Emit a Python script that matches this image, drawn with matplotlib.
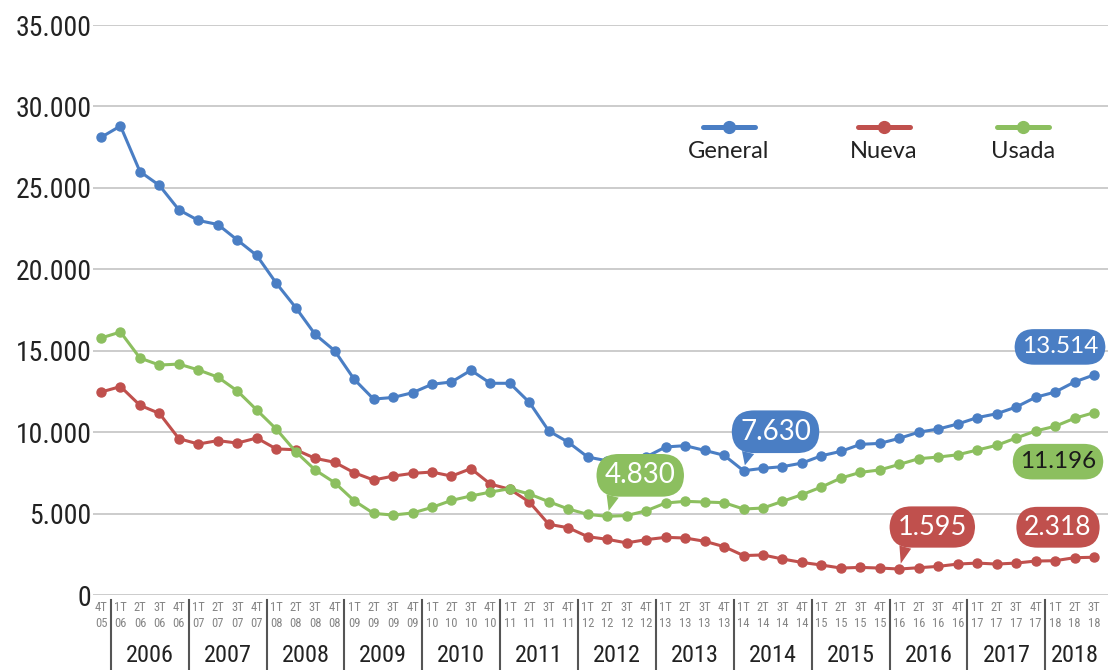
import numpy as np
import matplotlib
matplotlib.use("Agg")
import matplotlib.pyplot as plt
from matplotlib.lines import Line2D

# Datos trimestrales 4T 2005 - 3T 2018
general = [28100, 28800, 26000, 25150, 23650, 23000, 22750, 21800, 20850, 19150,
           17650, 16000, 15000, 13250, 12030, 12130, 12420, 12940, 13080, 13800,
           13000, 13000, 11830, 10070, 9380, 8470, 8240, 8080, 8480, 9090,
           9170, 8880, 8580, 7630, 7780, 7880, 8100, 8550, 8820, 9250,
           9310, 9620, 10000, 10190, 10500, 10890, 11130, 11540, 12140, 12460,
           13080, 13514]
nueva = [12460, 12800, 11650, 11150, 9600, 9270, 9480, 9330, 9640, 8970,
         8920, 8390, 8150, 7510, 7060, 7300, 7470, 7550, 7300, 7760,
         6810, 6490, 5710, 4340, 4130, 3580, 3420, 3200, 3400, 3540,
         3500, 3300, 2970, 2420, 2460, 2210, 2000, 1840, 1655, 1695,
         1655, 1595, 1675, 1757, 1900, 1960, 1900, 1960, 2085, 2105,
         2290, 2318]
usada = [15780, 16150, 14550, 14120, 14180, 13820, 13380, 12530, 11360, 10190,
         8800, 7675, 6900, 5790, 5010, 4910, 5035, 5380, 5810, 6080,
         6320, 6530, 6200, 5730, 5280, 4950, 4830, 4880, 5170, 5650,
         5750, 5710, 5670, 5280, 5340, 5750, 6160, 6630, 7180, 7530,
         7680, 8020, 8370, 8470, 8610, 8900, 9190, 9640, 10070, 10360,
         10850, 11196]

trimestres = ["4T"] + ["1T", "2T", "3T", "4T"] * 12 + ["1T", "2T", "3T"]
anios_q = ["05"] + [f"{a:02d}" for a in range(6, 18) for _ in range(4)] + ["18"] * 3
anios = [str(a) for a in range(2006, 2019)]

series = [("General", general, "#4A7EC4"),
          ("Nueva", nueva, "#C0504D"),
          ("Usada", usada, "#8CBF5F")]

# (serie, indice, texto, dx, dy en px, color texto, tamaño, con cola)
etiquetas = [(0, 51, "13.514", -34, 28, "white", 17.5, False),
             (2, 51, "11.196", -36, -49, "#1a1a1a", 17.5, False),
             (1, 51, "2.318", -36, 30, "white", 19, False),
             (0, 33, "7.630", 32, 39, "white", 20, True),
             (1, 41, "1.595", 33, 42, "white", 19.5, True),
             (2, 26, "4.830", 33, 41, "white", 20, True)]

NARROW = ["Roboto Condensed", "Roboto", "DejaVu Sans"]
LATO = ["Lato", "DejaVu Sans"]

fig = plt.figure(figsize=(11.11, 6.70), dpi=100)
ax = fig.add_axes([93 / 1111, 75 / 670, (1108 - 93) / 1111, 570 / 670])

x = np.arange(len(general))
for nombre, datos, color in series:
    ax.plot(x, datos, color=color, lw=2.2, marker="o", ms=6.5, zorder=3)

ax.set_xlim(-8 / 19.47, 51 + 14 / 19.47)
ax.set_ylim(0, 35000)
ax.set_yticks(range(0, 35001, 5000))
ax.set_yticklabels(["0" if v == 0 else f"{v // 1000}.000" for v in range(0, 35001, 5000)],
                   family=NARROW, fontsize=20, color="#222222")
ax.grid(axis="y", color="#c4c4c4", lw=1.2)
ax.set_axisbelow(True)
for s in ax.spines.values():
    s.set_visible(False)
ax.tick_params(axis="y", length=0, pad=1)

ax.set_xticks(x)
ax.set_xticklabels([f"{t}\n{a}" for t, a in zip(trimestres, anios_q)],
                   family=NARROW, fontsize=9, color="#858585", linespacing=1.35)
ax.tick_params(axis="x", length=0, pad=4)

# separadores de años y etiquetas de año
trans = ax.get_xaxis_transform()
for k in range(len(anios)):
    xs = 0.5 + 4 * k
    ax.plot([xs, xs], [-0.009, -0.135], color="#555555", lw=1.5,
            transform=trans, clip_on=False)
    xc = xs + 2 if k < len(anios) - 1 else 50
    ax.text(xc, -0.107, anios[k], transform=trans, ha="center", va="center",
            family=NARROW, fontsize=17.5, color="#222222")

# leyenda
for (nombre, datos, color), cx in zip(series, [729, 884, 1023]):
    fig.add_artist(Line2D([(cx - 26) / 1111, (cx + 26) / 1111], [1 - 127 / 670] * 2,
                          color=color, lw=3.6, solid_capstyle="round"))
    fig.add_artist(Line2D([cx / 1111], [1 - 127 / 670], color=color, marker="o", ms=8.5))
    fig.text(cx / 1111, 1 - 151 / 670, nombre, ha="center", va="center",
             family=LATO, fontsize=17, color="#222222")

# etiquetas de valores
for si, idx, txt, dx, dy, tc, fs, cola in etiquetas:
    color = series[si][2]
    val = series[si][1][idx]
    props = None
    if cola:
        props = dict(arrowstyle="wedge,tail_width=0.45,shrink_factor=0.5",
                     fc=color, ec="none", relpos=(0.14, 0.0), shrinkA=0, shrinkB=4)
    ax.annotate(txt, xy=(idx, val), xytext=(dx, dy), textcoords="offset pixels",
                ha="center", va="center", family=LATO, fontsize=fs, color=tc,
                bbox=dict(boxstyle="round,pad=0.3,rounding_size=0.8", fc=color, ec="none"),
                arrowprops=props, zorder=5, annotation_clip=False)

fig.savefig("out.png", dpi=100)
